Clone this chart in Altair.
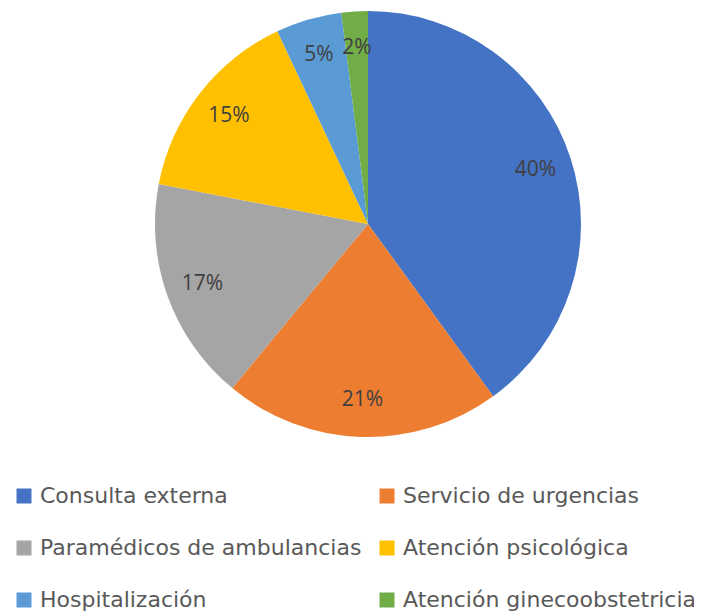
import altair as alt
import pandas as pd

categories = ["Consulta externa", "Servicio de urgencias", "Paramédicos de ambulancias",
              "Atención psicológica", "Hospitalización", "Atención ginecoobstetricia"]
values = [40, 21, 17, 15, 5, 2]
labels = ["40%", "21%", "17%", "15%", "5%", "2%"]
colors = ["#4472C4", "#ED7D31", "#A5A5A5", "#FFC000", "#5B9BD5", "#70AD47"]

df = pd.DataFrame({"cat": categories, "val": values, "lab": labels, "ord": list(range(len(values)))})

FONT = "Open Sans"
LFONT = "DejaVu Sans"

base = alt.Chart(df).encode(
    theta=alt.Theta("val:Q", stack=True),
    order=alt.Order("ord:Q"),
    x=alt.value(360),
    y=alt.value(216),
)

arcs = base.mark_arc(outerRadius=213).encode(
    color=alt.Color(
        "cat:N",
        scale=alt.Scale(domain=categories, range=colors),
        sort=categories,
        legend=alt.Legend(
            title=None,
            orient="none",
            legendX=5,
            legendY=477,
            columns=2,
            direction="horizontal",
            symbolType="square",
            symbolSize=225,
            symbolStrokeWidth=0,
            labelFont=LFONT,
            labelFontSize=22,
            labelColor="#595959",
            labelOffset=5,
            labelLimit=400,
            rowPadding=30,
            columnPadding=14,
        ),
    )
)

text = base.mark_text(radius=176, font=FONT, fontSize=21, color="#404040").encode(
    text="lab:N"
)

chart = (arcs + text).properties(
    width=686, height=603, padding=0,
    autosize=alt.AutoSizeParams(type="none"),
).configure_view(stroke=None)

chart.save("out.html", embed_options={"renderer": "svg", "actions": False})
